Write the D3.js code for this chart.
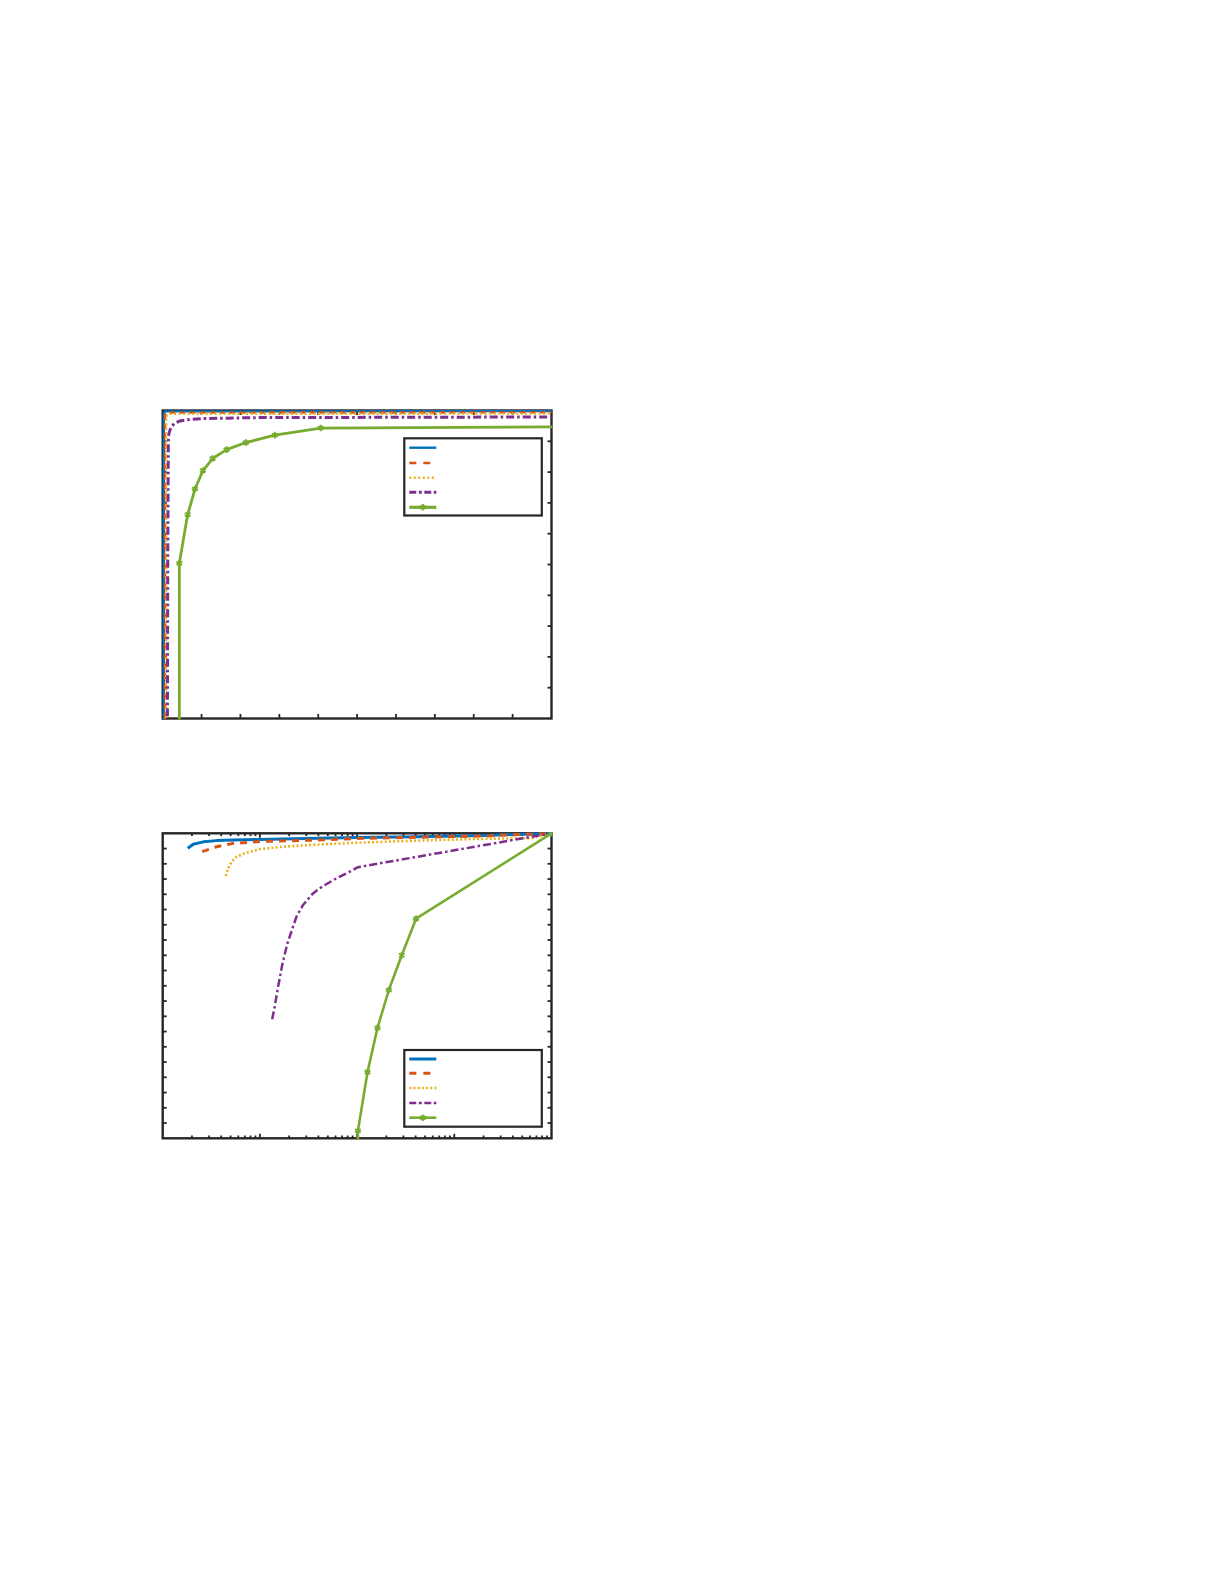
<!DOCTYPE html>
<html><head><meta charset="utf-8">
<script src="https://cdn.jsdelivr.net/npm/d3@7"></script>
<style>html,body{margin:0;padding:0;background:#fff;}svg{display:block;}</style>
</head><body>
<script>
// ---------- DATA ----------
// Panel 1 (linear axes)
const p1XTicks = [0,1,2,3,4,5,6,7,8,9,10];
const p1YTicks = [0,0.1,0.2,0.3,0.4,0.5,0.6,0.7,0.8,0.9,1];
const p1Blue   = [[0.03,-0.1],[0.03,0.99],[0.06,0.997],[10,0.998]];
const p1Orange = [[0.06,-0.1],[0.06,0.985],[0.1,0.993],[10,0.994]];
const p1Yellow = [[0.09,-0.1],[0.09,0.98],[0.14,0.989],[10,0.99]];
const p1Purple = [[0.12,-0.1],[0.13,0.5],[0.145,0.9],[0.16,0.925],[0.21,0.945],[0.3,0.958],[0.45,0.966],[0.7,0.971],[1.05,0.974],[2.5,0.977],[10,0.979]];
const p1Green  = [[0.428,-0.1],[0.428,0.504],[0.642,0.662],[0.83,0.745],[1.035,0.805],[1.283,0.844],[1.642,0.873],[2.139,0.896],[2.883,0.92],[4.063,0.943],[10.5,0.947]];

// Panel 2 (log x axis)
const p2XMajor = [1e-4,1e-3,1e-2,1e-1,1];
const p2YTicks = d3.range(0,21).map(i=>i*0.05);
const p2Blue   = [[0.000181,0.951],[0.000206,0.964],[0.000262,0.972],[0.000358,0.976],[0.000532,0.978],[0.000998,0.98],[0.00381,0.984],[0.0102,0.986],[0.0404,0.989],[0.196,0.993],[1,1]];
const p2Orange = [[0.000255,0.94],[0.000358,0.956],[0.000532,0.967],[0.000998,0.973],[0.00381,0.978],[0.0102,0.983],[0.0404,0.987],[0.196,0.991],[1,1]];
const p2Yellow = [[0.000444,0.86],[0.000472,0.885],[0.000511,0.907],[0.000575,0.923],[0.000728,0.937],[0.000998,0.948],[0.00173,0.956],[0.00381,0.963],[0.0102,0.969],[0.0404,0.976],[0.196,0.982],[0.63,0.984],[1,1]];
const p2Purple = [[0.001337,0.39],[0.00142,0.432],[0.00154,0.497],[0.00171,0.574],[0.00192,0.639],[0.00211,0.678],[0.00238,0.727],[0.00278,0.765],[0.00352,0.803],[0.00446,0.827],[0.00611,0.852],[0.00838,0.874],[0.0102,0.889],[1,1]];
const p2Green  = [[0.0102,-0.1],[0.0102,0.025],[0.0128,0.217],[0.0162,0.362],[0.0212,0.486],[0.0288,0.6],[0.0404,0.72],[1,1]];

// ---------- STYLES ----------
const C = {blue:"#0072BD", orange:"#D95319", yellow:"#EDB120", purple:"#7E2F8E", green:"#77AC30", axis:"#262626"};

const svg = d3.select("body").append("svg").attr("width",1225).attr("height",1585);

function drawPanel(opts){
  const {left,top,right,bottom,xScale,yScale,xMajor,xMinor,yTicks,series,legend,id} = opts;
  const g = svg.append("g");
  g.append("clipPath").attr("id",id).append("rect").attr("x",left-1).attr("y",top-1).attr("width",right-left+2).attr("height",bottom-top+2);
  g.append("rect").attr("x",left).attr("y",top).attr("width",right-left).attr("height",bottom-top)
    .attr("fill","none").attr("stroke",C.axis).attr("stroke-width",2.4);
  const tk = g.append("g").attr("stroke",C.axis).attr("stroke-width",1.8);
  const drawX = (vals,len)=>{
    vals.forEach(v=>{
      const px = xScale(v);
      if (px<=left+1 || px>=right-1) return;
      tk.append("line").attr("x1",px).attr("x2",px).attr("y1",bottom).attr("y2",bottom-len);
      tk.append("line").attr("x1",px).attr("x2",px).attr("y1",top).attr("y2",top+len);
    });
  };
  drawX(xMajor,4.5);
  if (xMinor) drawX(xMinor,2.8);
  yTicks.forEach(v=>{
    const py = yScale(v);
    if (py<=top+1 || py>=bottom-1) return;
    tk.append("line").attr("y1",py).attr("y2",py).attr("x1",left).attr("x2",left+4);
    tk.append("line").attr("y1",py).attr("y2",py).attr("x1",right).attr("x2",right-4);
  });
  const lg = g.append("g").attr("clip-path",`url(#${id})`);
  const line = d3.line().x(d=>xScale(d[0])).y(d=>yScale(d[1]));
  series.forEach(s=>{
    lg.append("path").datum(s.data).attr("d",line).attr("fill","none")
      .attr("stroke",s.color).attr("stroke-width",s.width)
      .attr("stroke-dasharray",s.dash||null).attr("stroke-linejoin","round");
    if (s.marker){
      lg.selectAll(null).data(s.data).enter().append("path")
        .attr("transform",d=>`translate(${xScale(d[0])},${yScale(d[1])})`)
        .attr("d",d3.symbol(d3.symbolAsterisk,30))
        .attr("fill","none").attr("stroke",s.color).attr("stroke-width",2);
    }
  });
  const L = legend;
  g.append("rect").attr("x",L.x).attr("y",L.y).attr("width",L.w).attr("height",L.h)
    .attr("fill","#fff").attr("stroke",C.axis).attr("stroke-width",2.2);
  series.forEach((s,i)=>{
    const yy = L.rows[i];
    g.append("line").attr("x1",L.x+5).attr("x2",L.x+32).attr("y1",yy).attr("y2",yy)
      .attr("stroke",s.color).attr("stroke-width",s.lwidth||s.width).attr("stroke-dasharray",s.ldash||s.dash||null);
    if (s.marker){
      g.append("path").attr("transform",`translate(${L.x+18.5},${yy})`)
        .attr("d",d3.symbol(d3.symbolAsterisk,30)).attr("fill","none")
        .attr("stroke",s.color).attr("stroke-width",2);
    }
  });
}

// Panel 1
{
  const left=162.7, right=551.5, top=410.5, bottom=718.5;
  const x = d3.scaleLinear().domain([0,10]).range([left,right]);
  const y = d3.scaleLinear().domain([0,1]).range([bottom,top]);
  drawPanel({left,top,right,bottom,xScale:x,yScale:y,xMajor:p1XTicks,xMinor:null,yTicks:p1YTicks,id:"c1",
    series:[
      {data:p1Blue,color:C.blue,width:2.4},
      {data:p1Orange,color:C.orange,width:2.4,dash:"6,4",ldash:"7,7"},
      {data:p1Yellow,color:C.yellow,width:2.4,dash:"2,2.5"},
      {data:p1Purple,color:C.purple,width:3,dash:"8,3,2.5,3",ldash:"7,2.5,3,2.5"},
      {data:p1Green,color:C.green,width:2.8,marker:true,lwidth:3.2}
    ],
    legend:{x:404.3,y:438.3,w:137.5,h:77.2,rows:[447.7,463,477.7,492.3,507.3]}
  });
}

// Panel 2
{
  const left=162.7, right=551.5, top=833.3, bottom=1138.3;
  const x = d3.scaleLog().domain([1e-4,1]).range([left,right]);
  const y = d3.scaleLinear().domain([0,1]).range([bottom,top]);
  const minors = [];
  p2XMajor.slice(0,-1).forEach(m=>{ for(let k=2;k<=9;k++) minors.push(m*k); });
  drawPanel({left,top,right,bottom,xScale:x,yScale:y,xMajor:p2XMajor,xMinor:minors,yTicks:p2YTicks,id:"c2",
    series:[
      {data:p2Blue,color:C.blue,width:3},
      {data:p2Orange,color:C.orange,width:3,dash:"7,6",ldash:"7,7"},
      {data:p2Yellow,color:C.yellow,width:2.6,dash:"2,2.2"},
      {data:p2Purple,color:C.purple,width:2.5,dash:"8,3,2.5,3",ldash:"7,2.5,3,2.5"},
      {data:p2Green,color:C.green,width:2.6,marker:true}
    ],
    legend:{x:404.3,y:1050,w:137.5,h:76.7,rows:[1059,1073.3,1088,1103,1117.7]}
  });
}
</script>
</body></html>
